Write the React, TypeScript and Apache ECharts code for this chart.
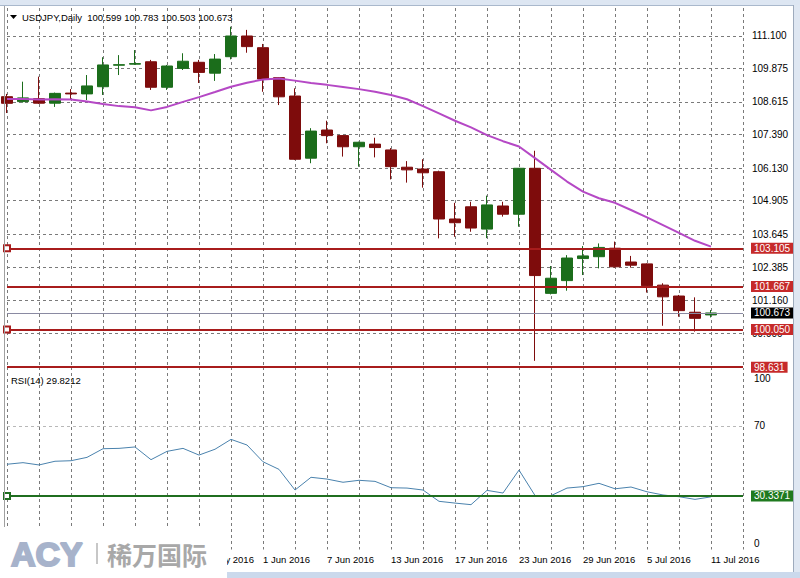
import React, { useEffect, useRef } from 'react';
import * as echarts from 'echarts';

const symbolName = 'USDJPY';
const periodName = 'Daily';
const rsiPeriod = 14;

const dates = [
  '10 May 2016', '11 May 2016', '12 May 2016', '13 May 2016', '16 May 2016', '17 May 2016', '18 May 2016',
  '19 May 2016', '20 May 2016', '23 May 2016', '24 May 2016', '25 May 2016', '26 May 2016', '27 May 2016',
  '30 May 2016', '31 May 2016', '1 Jun 2016', '2 Jun 2016', '3 Jun 2016', '6 Jun 2016', '7 Jun 2016',
  '8 Jun 2016', '9 Jun 2016', '10 Jun 2016', '13 Jun 2016', '14 Jun 2016', '15 Jun 2016', '16 Jun 2016',
  '17 Jun 2016', '20 Jun 2016', '21 Jun 2016', '22 Jun 2016', '23 Jun 2016', '24 Jun 2016', '27 Jun 2016',
  '28 Jun 2016', '29 Jun 2016', '30 Jun 2016', '1 Jul 2016', '4 Jul 2016', '5 Jul 2016', '6 Jul 2016',
  '7 Jul 2016', '8 Jul 2016', '11 Jul 2016',
];
const emptySlots = ['12 Jul 2016', '13 Jul 2016'];
// first date label that is not hidden under the logo box
const firstVisibleLabel = 12;

const opens = [
  108.815, 108.63, 108.74, 108.57, 108.95, 108.92, 109.19, 110.0, 110.04, 110.13, 109.17, 109.88, 110.11, 109.7, 110.32,
  111.1, 110.66, 109.53, 108.84, 106.5, 107.56, 107.35, 106.93, 107.03, 106.81, 106.16, 106.09, 105.99, 104.21, 104.67,
  103.83, 104.7, 104.39, 106.12, 101.41, 101.89, 102.72, 102.79, 103.11, 102.59, 102.52, 101.72, 101.31, 100.7, 100.599,
];
const highs = [
  108.92, 109.38, 109.57, 108.97, 109.1, 109.63, 110.3, 110.38, 110.57, 110.2, 110.01, 110.45, 110.2, 110.42, 111.45,
  111.33, 110.8, 109.55, 109.13, 107.63, 107.91, 107.37, 107.12, 107.27, 106.88, 106.39, 106.46, 106.03, 104.82, 104.86,
  105.09, 104.86, 106.13, 106.78, 102.44, 102.85, 103.19, 103.29, 103.36, 102.82, 102.54, 101.79, 101.35, 101.26, 100.783,
];
const lows = [
  108.2, 108.59, 108.54, 108.43, 108.69, 108.69, 108.88, 109.63, 110.01, 109.07, 109.07, 109.82, 109.33, 109.41, 110.22,
  110.47, 109.0, 108.5, 106.43, 106.31, 107.06, 106.56, 106.18, 106.53, 105.7, 105.58, 105.39, 103.48, 103.54, 103.73,
  103.49, 104.3, 103.92, 98.87, 101.37, 101.51, 102.1, 102.35, 102.38, 102.38, 101.44, 100.19, 100.53, 99.97, 100.503,
];
const closes = [
  108.566, 108.77, 108.57, 108.94, 108.92, 109.22, 110.01, 110.02, 110.06, 109.17, 109.97, 110.15, 109.73, 110.23, 111.1,
  110.7, 109.48, 108.81, 106.46, 107.52, 107.35, 106.93, 107.1, 106.9, 106.18, 106.06, 105.95, 104.21, 104.07, 103.87,
  104.74, 104.39, 106.12, 102.08, 101.98, 102.74, 102.82, 103.14, 102.41, 102.47, 101.7, 101.28, 100.76, 100.47, 100.673,
];
const movingAverage = [
  108.73, 108.73, 108.71, 108.72, 108.71, 108.63, 108.54, 108.46, 108.42, 108.3, 108.43, 108.62, 108.8, 108.99, 109.19,
  109.34, 109.46, 109.5, 109.42, 109.33, 109.26, 109.18, 109.1, 109.0, 108.88, 108.72, 108.46, 108.19, 107.91, 107.66,
  107.37, 107.14, 106.94, 106.5, 106.06, 105.62, 105.24, 104.99, 104.82, 104.55, 104.27, 103.98, 103.69, 103.39, 103.17,
];
const rsiValues = [
  48.3, 49.2, 47.9, 50.0, 50.3, 52.2, 57.1, 57.3, 58.1, 50.9, 55.6, 57.3, 53.5, 56.8, 62.4,
  59.2, 49.7, 45.4, 33.7, 40.9, 39.9, 38.1, 39.2, 38.6, 35.0, 34.8, 33.7, 27.3, 26.3, 25.4,
  33.5, 32.0, 45.0, 30.6, 30.5, 34.8, 35.6, 37.5, 34.4, 35.4, 32.7, 30.9, 29.9, 28.4, 29.8212,
];

const priceTicks = [111.1, 109.875, 108.615, 107.39, 106.13, 104.905, 103.645, 102.385, 101.16, 99.9];
const rsiTicks = [100, 70, 0];
const rsiLevels = [70, 30];
const redLevels = [103.105, 101.667, 100.05, 98.631];
const selectedLevels = [103.105, 100.05];
const rsiHLine = 30.3371;

const FONT = '"Liberation Sans", Arial, sans-serif';
const BULL = '#1b6d1b';
const BEAR = '#7e0c0c';
const LEVEL_RED = '#a81c1c';
const GRID_DASH = { color: '#7a7a7a', type: [3, 3] as number[], width: 1 };

// layout
const W = 800;
const GRID_LEFT = 7;
const GRID_RIGHT = 57;
const PRICE_TOP = 8;
const PRICE_H = 362;
const RSI_TOP = 373;
const RSI_H = 176.5;

const rsiMin = Math.min(...rsiTicks);
const rsiAxisTicks = rsiTicks.filter((v) => v !== rsiMin);

function tagLabel(text: string, bg: string) {
  return {
    show: true,
    position: 'end',
    distance: 8,
    formatter: () => text,
    backgroundColor: bg,
    color: '#ffffff',
    padding: [1, 3, 0, 3],
    fontSize: 10,
    fontFamily: FONT,
  };
}

function buildGraphics() {
  const n = dates.length;
  const header = `${symbolName},${periodName}\u00a0\u00a0${opens[n - 1].toFixed(3)} ${highs[n - 1].toFixed(3)} ${lows[n - 1].toFixed(3)} ${closes[n - 1].toFixed(3)}`;
  const rsiHeader = `RSI(${rsiPeriod}) ${rsiValues[n - 1].toFixed(4)}`;
  return [
    { type: 'rect', z: 100, shape: { x: 0, y: 0, width: W, height: 5 }, style: { fill: '#dde6f2' }, silent: true },
    { type: 'line', z: 100, shape: { x1: 0, y1: 5.5, x2: W, y2: 5.5 }, style: { stroke: '#a9b8cc', lineWidth: 1 }, silent: true },
    { type: 'rect', z: 100, shape: { x: 793, y: 5, width: 7, height: 573 }, style: { fill: '#dfe7f2' }, silent: true },
    { type: 'line', z: 100, shape: { x1: 793.5, y1: 5, x2: 793.5, y2: 578 }, style: { stroke: '#9eabbd', lineWidth: 1 }, silent: true },
    { type: 'rect', z: 100, shape: { x: 0, y: 572, width: W, height: 6 }, style: { fill: '#cbd9ec' }, silent: true },
    { type: 'line', z: 100, shape: { x1: 4.5, y1: 6, x2: 4.5, y2: 572 }, style: { stroke: '#a0a0a0', lineWidth: 1 }, silent: true },
    { type: 'polygon', z: 100, shape: { points: [[10, 15], [17, 15], [13.5, 19]] }, style: { fill: '#000' }, silent: true },
    {
      type: 'text', z: 100, x: 22, y: 17,
      style: { text: header, fontSize: 9.5, fontFamily: FONT, fill: '#000', verticalAlign: 'middle' },
      silent: true,
    },
    {
      type: 'text', z: 100, x: 11, y: 380.5,
      style: { text: rsiHeader, fontSize: 9.5, fontFamily: FONT, fill: '#000', verticalAlign: 'middle' },
      silent: true,
    },
    { type: 'rect', z: 101, shape: { x: 0, y: 527, width: 227, height: 51 }, style: { fill: '#ffffff' }, silent: true },
    {
      type: 'text', z: 102, x: 11, y: 554,
      style: {
        text: 'ACY', fontSize: 34, fontWeight: 'bold', fontFamily: FONT, fill: '#a7b3cb',
        stroke: '#a7b3cb', lineWidth: 2, verticalAlign: 'middle',
      },
      silent: true,
    },
    { type: 'line', z: 102, shape: { x1: 97, y1: 543, x2: 97, y2: 564 }, style: { stroke: '#b5b5b5', lineWidth: 1.5 }, silent: true },
    {
      type: 'text', z: 102, x: 107, y: 554,
      style: { text: '稀万国际', fontSize: 25, fontWeight: 'bold', fontFamily: '"Noto Sans CJK SC", sans-serif', fill: '#a8a8a8', verticalAlign: 'middle' },
      silent: true,
    },
    // bottom scale value of the RSI window, lifted inside the window like MT4 does
    {
      type: 'text', z: 110, x: W - GRID_RIGHT + 11, y: RSI_TOP + RSI_H - 6.5,
      style: {
        text: '\u200b' + rsiMin.toFixed(0),
        fontSize: 10, fontFamily: FONT, fill: '#000000', verticalAlign: 'middle', align: 'left',
      },
      silent: true,
    },
  ];
}

function buildOption() {
  const cats = dates.concat(emptySlots);
  const n = dates.length;
  const candleData = dates.map((_, i) => [opens[i], closes[i], lows[i], highs[i]]);

  const levelLines: any[] = redLevels.map((v) => ({
    yAxis: v,
    symbol: selectedLevels.includes(v) ? 'emptyRect' : 'none',
    symbolSize: 6,
    lineStyle: { color: LEVEL_RED, width: 2, type: 'solid' },
    label: tagLabel(v.toFixed(3), '#c62a2a'),
  }));
  levelLines.push({
    yAxis: closes[n - 1],
    symbol: 'none',
    lineStyle: { color: '#8a8aa2', width: 1, type: 'solid' },
    label: tagLabel(closes[n - 1].toFixed(3), '#000000'),
  });

  const rsiMarks: any[] = rsiLevels.map((v) => ({
    yAxis: v,
    symbol: 'none',
    lineStyle: { color: '#b8b8b8', width: 1, type: [3, 3] },
    label: { show: false },
  }));
  rsiMarks.push({
    yAxis: rsiHLine,
    symbol: 'emptyRect',
    symbolSize: 6,
    lineStyle: { color: '#1f6e1f', width: 2, type: 'solid' },
    label: tagLabel(rsiHLine.toFixed(4), '#1f7a1f'),
  });

  const xCommon = {
    type: 'category',
    data: cats,
    boundaryGap: false,
    axisLine: { show: false },
    axisTick: { show: false },
    splitLine: { show: true, interval: 1, lineStyle: GRID_DASH },
  };

  return {
    animation: false,
    backgroundColor: '#ffffff',
    grid: [
      { left: GRID_LEFT, right: GRID_RIGHT, top: PRICE_TOP, height: PRICE_H },
      { left: GRID_LEFT, right: GRID_RIGHT, top: RSI_TOP, height: RSI_H },
    ],
    xAxis: [
      { ...xCommon, gridIndex: 0, axisLabel: { show: false } },
      {
        ...xCommon,
        gridIndex: 1,
        axisLabel: {
          show: true,
          interval: (idx: number) => idx % 4 === 0 && idx >= firstVisibleLabel && idx < n,
          align: 'left',
          margin: 5,
          fontSize: 9.5,
          color: '#000',
          fontFamily: FONT,
          hideOverlap: false,
        },
      },
    ],
    yAxis: [
      {
        type: 'value',
        gridIndex: 0,
        position: 'right',
        min: 98.525,
        max: 112.154,
        axisLine: { show: false },
        axisTick: { show: false, customValues: priceTicks },
        axisLabel: {
          customValues: priceTicks,
          formatter: (v: number) => v.toFixed(3),
          margin: 9,
          fontSize: 10,
          color: '#000',
          fontFamily: FONT,
        },
        splitLine: { show: true, lineStyle: GRID_DASH },
      },
      {
        type: 'value',
        gridIndex: 1,
        position: 'right',
        min: 0,
        max: 100,
        axisLine: { show: false },
        axisTick: { show: false, customValues: rsiAxisTicks },
        axisLabel: {
          customValues: rsiAxisTicks,
          showMaxLabel: true,
          formatter: (v: number) => (v === 100 ? '{top|100}' : String(v)),
          rich: {
            top: { padding: [10, 0, 0, 0], fontSize: 10, fontFamily: FONT, color: '#000' },
          },
          margin: 11,
          fontSize: 10,
          color: '#000',
          fontFamily: FONT,
        },
        splitLine: { show: false },
      },
    ],
    series: [
      {
        type: 'candlestick',
        xAxisIndex: 0,
        yAxisIndex: 0,
        data: candleData,
        barWidth: 11,
        itemStyle: { color: BULL, color0: BEAR, borderColor: BULL, borderColor0: BEAR, borderWidth: 1 },
        markLine: { silent: true, animation: false, symbol: ['none', 'none'], precision: 3, data: levelLines },
      },
      {
        type: 'line',
        xAxisIndex: 0,
        yAxisIndex: 0,
        data: movingAverage,
        symbol: 'none',
        z: 3,
        lineStyle: { color: '#b548c5', width: 2 },
      },
      {
        type: 'line',
        xAxisIndex: 1,
        yAxisIndex: 1,
        data: rsiValues,
        symbol: 'none',
        lineStyle: { color: '#4a82ad', width: 1 },
        markLine: { silent: true, animation: false, symbol: ['none', 'none'], precision: 4, data: rsiMarks },
      },
    ],
    graphic: buildGraphics(),
  };
}

export default function App() {
  const ref = useRef<HTMLDivElement>(null);
  useEffect(() => {
    if (!ref.current) return;
    const chart = echarts.init(ref.current, null, { renderer: 'svg' });
    chart.setOption(buildOption() as any);
    return () => chart.dispose();
  }, []);
  return (
    <div
      ref={ref}
      style={{ position: 'fixed', left: 0, top: 0, width: W, height: 578, background: '#ffffff' }}
    />
  );
}
